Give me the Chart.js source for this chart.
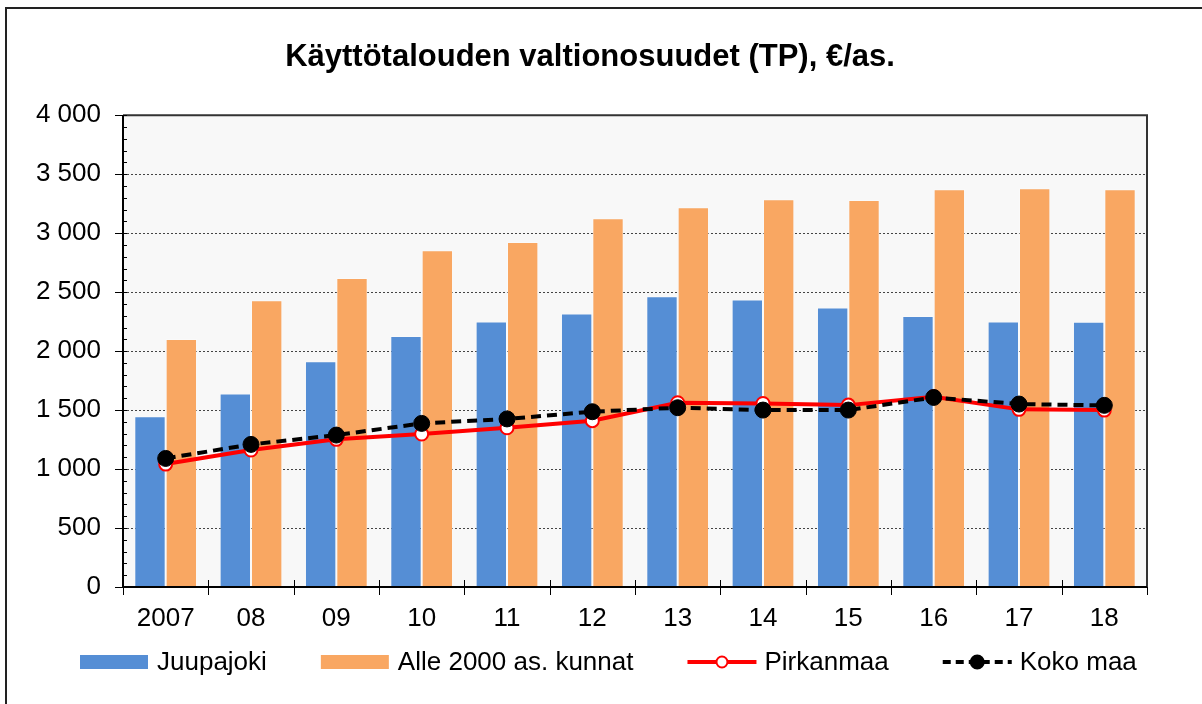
<!DOCTYPE html>
<html>
<head>
<meta charset="utf-8">
<script src="https://cdn.jsdelivr.net/npm/chart.js@4/dist/chart.umd.min.js"></script>
<style>
  html, body { margin: 0; padding: 0; background: #fff; }
  #wrap { width: 1202px; height: 704px; position: relative; }
</style>
</head>
<body>
<div id="wrap"><canvas id="c" width="1202" height="704"></canvas></div>
<script>
const categories = ['2007', '08', '09', '10', '11', '12', '13', '14', '15', '16', '17', '18'];
const juupajoki = [1447, 1641, 1915, 2127, 2252, 2319, 2466, 2438, 2370, 2297, 2251, 2248];
const alle2000 = [2102, 2432, 2619, 2856, 2924, 3127, 3220, 3288, 3282, 3373, 3381, 3373];
const pirkanmaa = [1042, 1161, 1252, 1297, 1350, 1410, 1562, 1556, 1542, 1613, 1506, 1500];
const kokoMaa = [1090, 1209, 1288, 1387, 1425, 1486, 1520, 1500, 1500, 1607, 1551, 1540];
const seriesNames = ['Juupajoki', 'Alle 2000 as. kunnat', 'Pirkanmaa', 'Koko maa'];
const titleText = 'Käyttötalouden valtionosuudet (TP), €/as.';

const FONT = "'Liberation Sans', Arial, sans-serif";
const BLUE = '#558ed5';
const ORANGE = '#f9a762';
const RED = '#ff0000';

function fmt(v) { return String(v).replace(/\B(?=(\d{3})+(?!\d))/g, ' '); }

const decor = {
  id: 'decor',
  beforeDraw(chart) {
    const ctx = chart.ctx, a = chart.chartArea;
    ctx.save();
    ctx.fillStyle = '#fff';
    ctx.fillRect(0, 0, chart.width, chart.height);
    ctx.strokeStyle = '#222';
    ctx.lineWidth = 2;
    ctx.strokeRect(6, 8, chart.width + 50, chart.height + 50);
    ctx.fillStyle = '#f8f8f8';
    ctx.fillRect(a.left, a.top, a.right - a.left, a.bottom - a.top);
    ctx.restore();
  },
  afterDraw(chart) {
    const ctx = chart.ctx, a = chart.chartArea;
    const xs = chart.scales.x, ys = chart.scales.y;
    ctx.save();
    ctx.strokeStyle = '#333';
    ctx.lineWidth = 2;
    ctx.beginPath();
    ctx.moveTo(a.left, a.top); ctx.lineTo(a.right, a.top); ctx.lineTo(a.right, a.bottom);
    ctx.stroke();
    ctx.strokeStyle = '#000';
    ctx.beginPath();
    ctx.moveTo(a.left, a.top); ctx.lineTo(a.left, a.bottom); ctx.lineTo(a.right, a.bottom);
    ctx.stroke();
    ctx.lineWidth = 1;
    ctx.beginPath();
    for (let v = 0; v <= 4000; v += 100) {
      const y = Math.round(ys.getPixelForValue(v)) + 0.5;
      ctx.moveTo(a.left, y); ctx.lineTo(a.left + 4, y);
    }
    ctx.stroke();
    ctx.beginPath();
    for (let i = -1; i < categories.length; i++) {
      const x = Math.round((xs.getPixelForValue(i) + xs.getPixelForValue(i + 1)) / 2) + 0.5;
      const up = (i === -1 || i === categories.length - 1) ? 0 : 7;
      ctx.moveTo(x, a.bottom - up); ctx.lineTo(x, a.bottom + 8);
    }
    ctx.stroke();
    // legend
    ctx.font = '26px ' + FONT;
    ctx.textBaseline = 'middle';
    const cy = 662;
    let x = 80;
    chart.data.datasets.forEach((ds, i) => {
      const label = seriesNames[i];
      if (ds.type === 'bar') {
        ctx.fillStyle = ds.backgroundColor;
        ctx.fillRect(x, cy - 7, 68, 14);
      } else {
        ctx.strokeStyle = ds.borderColor;
        ctx.lineWidth = 4;
        ctx.setLineDash(ds.borderDash ? [8, 5] : []);
        ctx.beginPath(); ctx.moveTo(x, cy); ctx.lineTo(x + 69, cy); ctx.stroke();
        ctx.setLineDash([]);
        ctx.beginPath();
        ctx.arc(x + 34.5, cy, ds.borderDash ? 6.5 : 5.5, 0, Math.PI * 2);
        ctx.fillStyle = ds.pointBackgroundColor;
        ctx.fill();
        ctx.lineWidth = 2;
        ctx.strokeStyle = ds.pointBorderColor;
        ctx.stroke();
      }
      ctx.fillStyle = '#000';
      ctx.fillText(label, x + 77, cy + 1);
      x += 77 + ctx.measureText(label).width + 54;
    });
    ctx.restore();
  }
};

new Chart(document.getElementById('c'), {
  data: {
    labels: categories,
    datasets: [
      { type: 'bar', label: seriesNames[0], data: juupajoki, backgroundColor: BLUE,
        borderColor: 'rgba(255,255,255,0.35)', borderWidth: 1,
        categoryPercentage: 0.735, barPercentage: 1, order: 2 },
      { type: 'bar', label: seriesNames[1], data: alle2000, backgroundColor: ORANGE,
        borderColor: 'rgba(255,255,255,0.35)', borderWidth: 1,
        categoryPercentage: 0.735, barPercentage: 1, order: 3 },
      { type: 'line', label: seriesNames[2], data: pirkanmaa, borderColor: RED, borderWidth: 4,
        pointRadius: 6.5, pointBorderWidth: 2, pointBackgroundColor: '#fff', pointBorderColor: RED,
        tension: 0, fill: false, order: 1 },
      { type: 'line', label: seriesNames[3], data: kokoMaa, borderColor: '#000', borderWidth: 4,
        borderDash: [10, 6], pointRadius: 8, pointBorderWidth: 1, pointBackgroundColor: '#000',
        pointBorderColor: '#000', tension: 0, fill: false, order: 0 }
    ]
  },
  options: {
    responsive: false,
    animation: false,
    layout: { padding: { left: 33, right: 55, top: 0, bottom: 57 } },
    plugins: {
      legend: { display: false },
      tooltip: { enabled: false },
      title: {
        display: true, text: titleText, color: '#000',
        font: { family: FONT, size: 31, weight: 'bold' },
        padding: { top: 39, bottom: 39 }
      }
    },
    scales: {
      x: {
        offset: true,
        grid: { display: true, drawOnChartArea: false, drawTicks: true, tickLength: 8,
                tickColor: 'rgba(0,0,0,0)', offset: true },
        border: { display: false },
        ticks: { color: '#000', font: { family: FONT, size: 26 }, padding: 8, maxRotation: 0, autoSkip: false },
        afterFit(s) { s.height = 60; }
      },
      y: {
        min: 0, max: 4000,
        grid: { color: '#444', lineWidth: 1, drawTicks: true, tickLength: 8, tickColor: '#000' },
        border: { display: false, dash: [2, 2] },
        ticks: { stepSize: 500, color: '#000', font: { family: FONT, size: 26 }, padding: 14,
                 callback: (v) => fmt(v) },
        afterFit(s) { s.width = 90; }
      }
    }
  },
  plugins: [decor]
});
</script>
</body>
</html>
